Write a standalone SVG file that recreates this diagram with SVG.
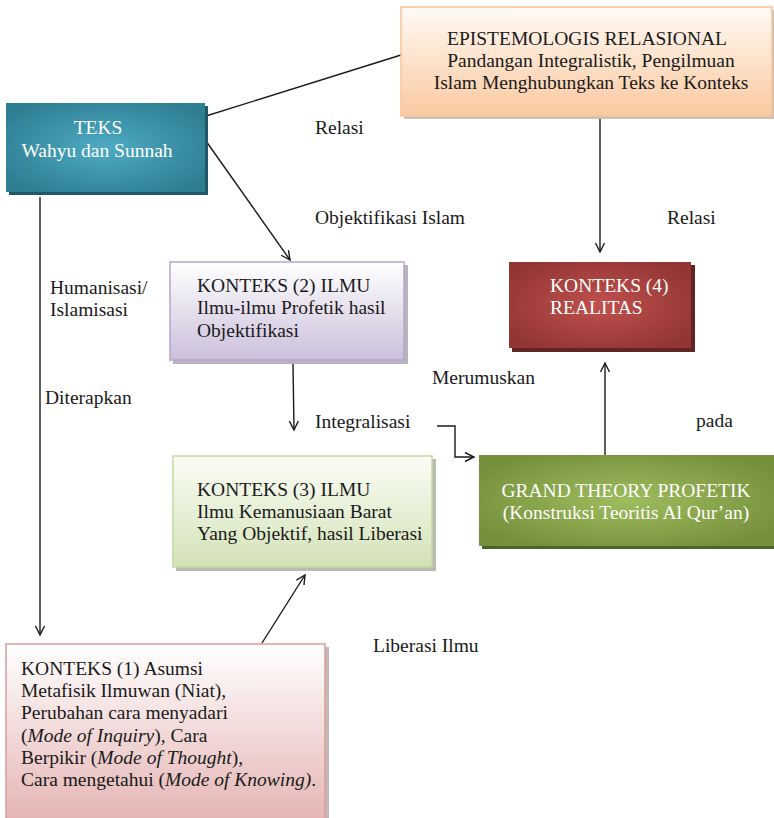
<svg xmlns="http://www.w3.org/2000/svg" width="774" height="818" viewBox="0 0 774 818" font-family="'Liberation Serif', 'Times New Roman', Times, 'DejaVu Serif', serif">
<style>
text{font-family:'Liberation Serif','Times New Roman',Times,'DejaVu Serif',serif;font-size:19.5px;fill:#1a1a1a}
.w{fill:#ffffff}
.c{stroke:#1a1a1a;stroke-width:1.4;fill:none}
.a{marker-end:url(#arr)}
</style>
<defs>
<marker id="arr" markerWidth="12" markerHeight="12" refX="10" refY="5" orient="auto" markerUnits="userSpaceOnUse">
<path d="M1,0.5 L10,5 L1,9.5" fill="none" stroke="#1a1a1a" stroke-width="1.4"/>
</marker>
<linearGradient id="gOr" x1="0" y1="0" x2="0" y2="1"><stop offset="0" stop-color="#fffaf5"/><stop offset="1" stop-color="#fac9a0"/></linearGradient>
<linearGradient id="gLa" x1="0" y1="0" x2="0" y2="1"><stop offset="0" stop-color="#ffffff"/><stop offset="1" stop-color="#cbbfdb"/></linearGradient>
<linearGradient id="gGr" x1="0" y1="0" x2="0" y2="1"><stop offset="0" stop-color="#fbfdf6"/><stop offset="1" stop-color="#d3e2b8"/></linearGradient>
<linearGradient id="gPk" x1="0" y1="0" x2="0" y2="1"><stop offset="0" stop-color="#ffffff"/><stop offset="1" stop-color="#e4b3b2"/></linearGradient>
<radialGradient id="rTe" cx="0.5" cy="0.5" r="0.6"><stop offset="0" stop-color="#4eabc3"/><stop offset="1" stop-color="#2f7f92"/></radialGradient>
<radialGradient id="rRe" cx="0.5" cy="0.5" r="0.6"><stop offset="0" stop-color="#c0504d"/><stop offset="1" stop-color="#923634"/></radialGradient>
<radialGradient id="rGn" cx="0.5" cy="0.5" r="0.6"><stop offset="0" stop-color="#9ebd5e"/><stop offset="1" stop-color="#758f3b"/></radialGradient>
</defs>

<g id="connectors">
<line class="c" x1="206" y1="116" x2="401" y2="55"/>
<line class="c a" x1="206" y1="141" x2="290" y2="260"/>
<line class="c a" x1="600" y1="118" x2="600" y2="252"/>
<line class="c a" x1="40" y1="197" x2="40" y2="635"/>
<line class="c a" x1="293" y1="364" x2="294" y2="430"/>
<polyline class="c a" points="437,426 455,426 455,457 474,457"/>
<line class="c a" x1="262" y1="643" x2="305" y2="575"/>
<line class="c a" x1="605" y1="455" x2="605" y2="363"/>
</g>

<g id="labels">
<text x="315" y="134">Relasi</text>
<text x="315" y="224">Objektifikasi Islam</text>
<text x="667" y="224">Relasi</text>
<text x="50" y="294">Humanisasi/</text>
<text x="50" y="316">Islamisasi</text>
<text x="45" y="404">Diterapkan</text>
<text x="432" y="384">Merumuskan</text>
<text x="315" y="428">Integralisasi</text>
<text x="696" y="427">pada</text>
<text x="373" y="652">Liberasi Ilmu</text>
</g>

<g id="epistemologis">
<rect x="404" y="10" width="372" height="109" fill="#c9c0b8"/>
<rect x="401" y="7" width="371" height="109" fill="url(#gOr)" stroke="#f8c49a" stroke-width="1.5"/>
<text x="587" y="45" text-anchor="middle">EPISTEMOLOGIS RELASIONAL</text>
<text x="591" y="67" text-anchor="middle">Pandangan Integralistik, Pengilmuan</text>
<text x="591" y="89" text-anchor="middle">Islam Menghubungkan Teks ke Konteks</text>
</g>

<g id="teks">
<rect x="9" y="106" width="199" height="89" fill="#215867"/>
<rect x="6" y="103" width="199" height="89" fill="url(#rTe)"/>
<text class="w" x="98" y="134" text-anchor="middle">TEKS</text>
<text class="w" x="97" y="157" text-anchor="middle">Wahyu dan Sunnah</text>
</g>

<g id="konteks2">
<rect x="173" y="265" width="235" height="99" fill="#b8b3bd"/>
<rect x="170" y="262" width="234" height="98" fill="url(#gLa)" stroke="#b6a6cb" stroke-width="1.5"/>
<text x="197" y="292">KONTEKS (2) ILMU</text>
<text x="197" y="314">Ilmu-ilmu Profetik hasil</text>
<text x="197" y="337">Objektifikasi</text>
</g>

<g id="konteks4">
<rect x="512" y="265" width="183" height="87" fill="#632523"/>
<rect x="509" y="262" width="182" height="86" fill="url(#rRe)"/>
<text class="w" x="550" y="292">KONTEKS (4)</text>
<text class="w" x="550" y="314">REALITAS</text>
</g>

<g id="konteks3">
<rect x="176" y="459" width="260" height="112" fill="#b8bdb0"/>
<rect x="173" y="456" width="259" height="111" fill="url(#gGr)" stroke="#c5d8a0" stroke-width="1.5"/>
<text x="197" y="496">KONTEKS (3) ILMU</text>
<text x="197" y="518">Ilmu Kemanusiaan Barat</text>
<text x="197" y="540">Yang Objektif, hasil Liberasi</text>
</g>

<g id="grandtheory">
<rect x="482" y="458" width="295" height="91" fill="#4f6228"/>
<rect x="479" y="455" width="295" height="91" fill="url(#rGn)"/>
<text class="w" x="626" y="497" text-anchor="middle">GRAND THEORY PROFETIK</text>
<text class="w" x="626" y="519" text-anchor="middle">(Konstruksi Teoritis Al Qur’an)</text>
</g>

<g id="konteks1">
<rect x="9" y="647" width="320" height="180" fill="#c4b8b8"/>
<rect x="6" y="644" width="319" height="180" fill="url(#gPk)" stroke="#dc9c9a" stroke-width="1.5"/>
<text x="21" y="675">KONTEKS (1) Asumsi</text>
<text x="21" y="697">Metafisik Ilmuwan (Niat),</text>
<text x="21" y="719">Perubahan cara menyadari</text>
<text x="21" y="742">(<tspan font-style="italic">Mode of Inquiry</tspan>), Cara</text>
<text x="21" y="764">Berpikir (<tspan font-style="italic">Mode of Thought</tspan>),</text>
<text x="21" y="786">Cara mengetahui (<tspan font-style="italic">Mode of Knowing)</tspan>.</text>
</g>
</svg>
